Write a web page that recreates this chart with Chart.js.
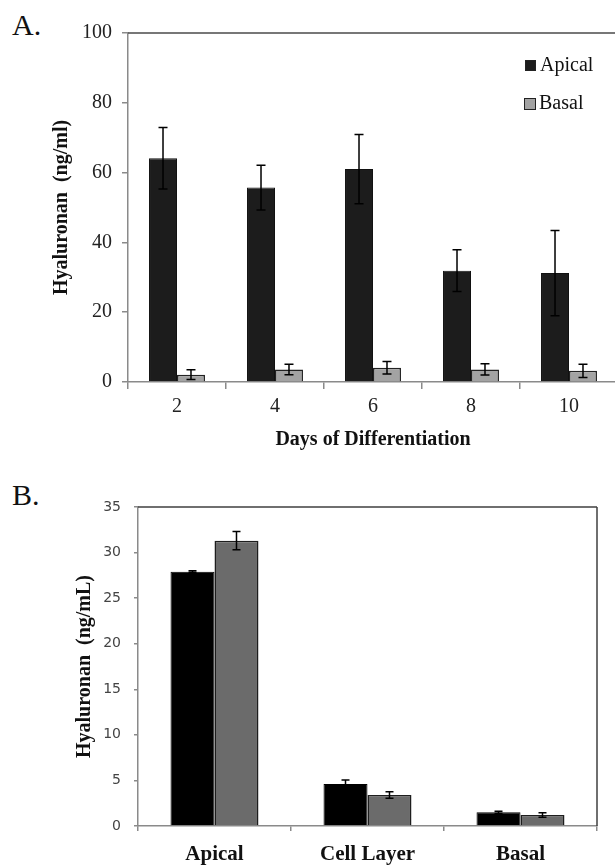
<!DOCTYPE html>
<html>
<head>
<meta charset="utf-8">
<script src="https://cdn.jsdelivr.net/npm/chart.js@4/dist/chart.umd.min.js"></script>
<style>
  html, body { margin: 0; padding: 0; background: #fff; overflow: hidden; width: 615px; height: 865px; }
  .wrap { position: relative; width: 615px; height: 865px; overflow: hidden; }
  canvas { position: absolute; left: 0; }
  .plabel { position: absolute; left: 12px; font-family: "Liberation Serif", "Times New Roman", serif; font-size: 30px; line-height: 30px; color: #111; }
</style>
</head>
<body>
<div class="wrap">
  <div class="plabel" style="top:10px;">A.</div>
  <canvas id="chartA" width="618" height="460" style="top:0;width:618px;height:460px;"></canvas>
  <div class="plabel" style="top:480px;">B.</div>
  <canvas id="chartB" width="615" height="405" style="top:460px;width:615px;height:405px;"></canvas>
</div>
<script>
// ---- Panel A data ----
const daysLabels = ['2', '4', '6', '8', '10'];
const apicalA = [64.1, 55.7, 61.0, 31.9, 31.2];
const apicalErrA = [8.8, 6.4, 9.9, 6.0, 12.2];
const basalA = [2.1, 3.6, 4.1, 3.6, 3.2];
const basalErrA = [1.4, 1.5, 1.8, 1.6, 1.9];

// ---- Panel B data ----
const compartments = ['Apical', 'Cell Layer', 'Basal'];
const tsgWT = [27.9, 4.6, 1.5];
const tsgWTErr = [0.1, 0.45, 0.12];
const tsgKO = [31.3, 3.4, 1.2];
const tsgKOErr = [1.0, 0.35, 0.25];

const SERIF = '"Liberation Serif", "Times New Roman", serif';
const SANS = '"DejaVu Sans", Verdana, sans-serif';

// Error bars drawn from dataset values via the chart's own scales
const errorBarPlugin = {
  id: 'errorBars',
  afterDatasetsDraw(chart, args, opts) {
    const ctx = chart.ctx;
    const yScale = chart.scales.y;
    ctx.save();
    ctx.strokeStyle = opts.color || '#000';
    ctx.lineWidth = opts.lineWidth || 1.5;
    chart.data.datasets.forEach((ds, i) => {
      const meta = chart.getDatasetMeta(i);
      if (!ds.errors) return;
      meta.data.forEach((el, j) => {
        const v = ds.data[j], e = ds.errors[j];
        const x = el.x;
        const yT = yScale.getPixelForValue(v + e);
        const yB = yScale.getPixelForValue(Math.max(0, v - e));
        const hw = opts.capHalf || 4.5;
        ctx.beginPath();
        ctx.moveTo(x, yT); ctx.lineTo(x, yB);
        ctx.moveTo(x - hw, yT); ctx.lineTo(x + hw, yT);
        ctx.moveTo(x - hw, yB); ctx.lineTo(x + hw, yB);
        ctx.stroke();
      });
    });
    ctx.restore();
  }
};

// Frame lines (top / right) and in-plot legend
const framePlugin = {
  id: 'frame',
  afterDraw(chart, args, opts) {
    const ctx = chart.ctx;
    const a = chart.chartArea;
    ctx.save();
    ctx.strokeStyle = opts.color || '#444';
    ctx.lineWidth = opts.width || 1.5;
    ctx.beginPath();
    if (opts.top) { ctx.moveTo(a.left, a.top); ctx.lineTo(a.right, a.top); }
    if (opts.right) { ctx.moveTo(a.right, a.top); ctx.lineTo(a.right, a.bottom); }
    ctx.stroke();
    // legend
    const lg = opts.legend;
    if (lg) {
      ctx.font = lg.font;
      ctx.textBaseline = 'middle';
      ctx.textAlign = 'left';
      chart.data.datasets.forEach((ds, i) => {
        const it = lg.items[i];
        ctx.fillStyle = ds.backgroundColor;
        ctx.fillRect(it.bx, it.by, it.bs, it.bs);
        ctx.lineWidth = 1;
        ctx.strokeStyle = '#222';
        ctx.strokeRect(it.bx + 0.5, it.by + 0.5, it.bs - 1, it.bs - 1);
        ctx.fillStyle = lg.color;
        ctx.fillText(ds.label, it.tx, it.ty);
      });
    }
    ctx.restore();
  }
};

new Chart(document.getElementById('chartA'), {
  type: 'bar',
  data: {
    labels: daysLabels,
    datasets: [
      { label: 'Apical', data: apicalA, errors: apicalErrA, backgroundColor: '#1c1c1c', borderColor: '#111', borderWidth: 1, borderSkipped: 'start' },
      { label: 'Basal', data: basalA, errors: basalErrA, backgroundColor: '#a3a3a3', borderColor: '#222', borderWidth: 1.5, borderSkipped: 'start' }
    ]
  },
  options: {
    responsive: false,
    animation: false,
    devicePixelRatio: 1,
    layout: { padding: { top: 33, left: 0, right: 0, bottom: 0 } },
    datasets: { bar: { categoryPercentage: 0.571, barPercentage: 1 } },
    plugins: {
      legend: { display: false },
      tooltip: { enabled: false },
      errorBars: { color: '#000', lineWidth: 1.5, capHalf: 4.5 },
      frame: {
        top: true, right: false, color: '#4a4a4a', width: 1.5,
        legend: {
          font: '20px ' + SERIF, color: '#111',
          items: [
            { bx: 525, by: 60, bs: 11, tx: 540, ty: 66 },
            { bx: 524, by: 98, bs: 12, tx: 539, ty: 104 }
          ]
        }
      }
    },
    scales: {
      x: {
        afterFit(s) { s.height = 78; },
        border: { color: '#8a8a8a', width: 1.5 },
        grid: { drawOnChartArea: false, drawTicks: true, tickLength: 7, color: '#8a8a8a', lineWidth: 1.5 },
        ticks: { color: '#222', font: { family: SERIF, size: 20 }, padding: 6, maxRotation: 0 },
        title: { display: true, text: 'Days of Differentiation', color: '#111', font: { family: SERIF, size: 20, weight: 'bold' }, padding: { top: 0, bottom: 8 } }
      },
      y: {
        min: 0, max: 100,
        afterFit(s) { s.width = 128; },
        border: { color: '#8a8a8a', width: 1.5 },
        grid: { drawOnChartArea: false, drawTicks: true, tickLength: 6, color: '#8a8a8a', lineWidth: 1.5 },
        ticks: { stepSize: 20, color: '#222', font: { family: SERIF, size: 20 }, padding: 10 },
        title: { display: true, text: 'Hyaluronan  (ng/ml)', color: '#111', font: { family: SERIF, size: 20, weight: 'bold' }, padding: { top: 50, bottom: 0 } }
      }
    }
  },
  plugins: [errorBarPlugin, framePlugin]
});

new Chart(document.getElementById('chartB'), {
  type: 'bar',
  data: {
    labels: compartments,
    datasets: [
      { label: 'TSG6 +/+', data: tsgWT, errors: tsgWTErr, backgroundColor: '#000000', borderColor: '#000', borderWidth: 1, borderSkipped: 'start' },
      { label: 'TSG6 -/-', data: tsgKO, errors: tsgKOErr, backgroundColor: '#6b6b6b', borderColor: '#1e1e1e', borderWidth: 1.5, borderSkipped: 'start' }
    ]
  },
  options: {
    responsive: false,
    animation: false,
    devicePixelRatio: 1,
    layout: { padding: { top: 47, left: 0, right: 18, bottom: 0 } },
    datasets: { bar: { categoryPercentage: 0.575, barPercentage: 1 } },
    plugins: {
      legend: { display: false },
      tooltip: { enabled: false },
      errorBars: { color: '#000', lineWidth: 1.5, capHalf: 4 },
      frame: {
        top: true, right: true, color: '#404040', width: 1.5,
        legend: {
          font: '21px ' + SERIF, color: '#111',
          items: [
            { bx: 489, by: 518, bs: 13, tx: 507, ty: 524 },
            { bx: 489, by: 559, bs: 13, tx: 507, ty: 565 }
          ]
        }
      }
    },
    scales: {
      x: {
        afterFit(s) { s.height = 39; },
        border: { color: '#8a8a8a', width: 1.5 },
        grid: { drawOnChartArea: false, drawTicks: true, tickLength: 5, color: '#8a8a8a', lineWidth: 1.5 },
        ticks: { color: '#111', font: { family: SERIF, size: 21, weight: 'bold' }, padding: 11, maxRotation: 0 },
        title: { display: false }
      },
      y: {
        min: 0, max: 35,
        afterFit(s) { s.width = 138; },
        border: { color: '#8a8a8a', width: 1.5 },
        grid: { drawOnChartArea: false, drawTicks: true, tickLength: 4, color: '#8a8a8a', lineWidth: 1.5 },
        ticks: { stepSize: 5, color: '#444', font: { family: SANS, size: 14 }, padding: 13 },
        title: { display: true, text: 'Hyaluronan  (ng/mL)', color: '#111', font: { family: SERIF, size: 20, weight: 'bold' }, padding: { top: 73, bottom: 0 } }
      }
    }
  },
  plugins: [errorBarPlugin, framePlugin]
});
</script>
</body>
</html>
